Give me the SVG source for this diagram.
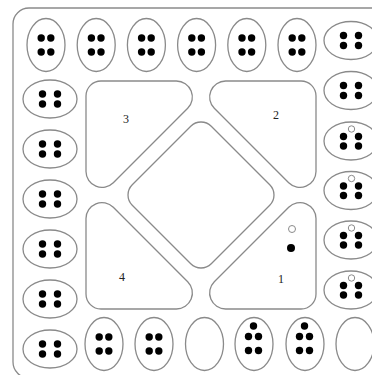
<svg xmlns="http://www.w3.org/2000/svg" width="372" height="375" viewBox="0 0 372 375">
<style>
.ln{fill:#fff;stroke:#8a8a8a;stroke-width:1.3}
.sd{fill:#000}
.op{fill:#fff;stroke:#8a8a8a;stroke-width:1}
.lb{font-family:"Liberation Serif",serif;font-size:12px;fill:#222;text-anchor:middle}
</style>
<defs>
<path id="tri" d="M101,81 L176.4,81 A16,16 0 0 1 187.7,108.3 L113.3,182.7 A16,16 0 0 1 86,171.4 L86,96 A15,15 0 0 1 101,81 Z"/>
<g id="v4"><ellipse class="ln" cx="0" cy="0" rx="19" ry="26.5"/><circle class="sd" cx="-4.8" cy="-7" r="3.7"/><circle class="sd" cx="4.8" cy="-7" r="3.7"/><circle class="sd" cx="-4.8" cy="7" r="3.7"/><circle class="sd" cx="4.8" cy="7" r="3.7"/></g>
<g id="h4"><ellipse class="ln" cx="0" cy="0" rx="27" ry="19"/><circle class="sd" cx="-7.5" cy="-5" r="3.7"/><circle class="sd" cx="7.5" cy="-5" r="3.7"/><circle class="sd" cx="-7.5" cy="5" r="3.7"/><circle class="sd" cx="7.5" cy="5" r="3.7"/></g>
<g id="h5"><ellipse class="ln" cx="0" cy="0" rx="27" ry="19"/><circle class="op" cx="0.5" cy="-12" r="3.2"/><circle class="sd" cx="-7.5" cy="-4.5" r="3.7"/><circle class="sd" cx="7.5" cy="-4.5" r="3.7"/><circle class="sd" cx="-7.5" cy="5" r="3.7"/><circle class="sd" cx="7.5" cy="5" r="3.7"/></g>
<g id="v5"><ellipse class="ln" cx="0" cy="0" rx="19" ry="26.5"/><circle class="sd" cx="-0.5" cy="-18" r="3.7"/><circle class="sd" cx="-5.5" cy="-7.5" r="3.7"/><circle class="sd" cx="4.5" cy="-7.5" r="3.7"/><circle class="sd" cx="-5.5" cy="6.5" r="3.7"/><circle class="sd" cx="4.5" cy="6.5" r="3.7"/></g>
<ellipse id="v0" class="ln" cx="0" cy="0" rx="19" ry="26.5"/>
</defs>
<rect width="372" height="375" fill="#fff"/>
<g id="frame"><rect class="ln" x="13" y="8" width="380" height="370" rx="16"/></g>
<g id="zones">
<g id="zone3"><use href="#tri" class="ln"/><text class="lb" x="126" y="123">3</text></g>
<g id="zone2"><use href="#tri" class="ln" transform="translate(402,0) scale(-1,1)"/><text class="lb" x="276" y="119">2</text></g>
<g id="zone4"><use href="#tri" class="ln" transform="translate(0,390) scale(1,-1)"/><text class="lb" x="122" y="281">4</text></g>
<g id="zone1"><use href="#tri" class="ln" transform="rotate(180 201 195)"/><text class="lb" x="281" y="283">1</text><circle class="op" cx="292" cy="229" r="3.5"/><circle class="sd" cx="291" cy="248" r="4"/></g>
<g id="center"><rect class="ln" x="145.14" y="139.14" width="111.72" height="111.72" rx="14.5" transform="rotate(45 201 195)"/></g>
</g>
<g id="pits-top">
<use href="#v4" x="46" y="45"/><use href="#v4" x="96.2" y="45"/><use href="#v4" x="146.4" y="45"/><use href="#v4" x="196.6" y="45"/><use href="#v4" x="246.8" y="45"/><use href="#v4" x="297" y="45"/>
</g>
<g id="pits-left">
<use href="#h4" x="50" y="99"/><use href="#h4" x="50" y="149"/><use href="#h4" x="50" y="199"/><use href="#h4" x="50" y="249"/><use href="#h4" x="50" y="299"/><use href="#h4" x="50" y="349"/>
</g>
<g id="pits-bottom">
<use href="#v4" x="104" y="344"/><use href="#v4" x="154" y="344"/><use href="#v0" x="204.5" y="344"/><use href="#v5" x="254" y="344"/><use href="#v5" x="305" y="344"/><use href="#v0" x="355" y="344"/>
</g>
<g id="pits-right">
<use href="#h4" x="351" y="40.5"/><use href="#h4" x="351" y="90.5"/><use href="#h5" x="351" y="141"/><use href="#h5" x="351" y="190.5"/><use href="#h5" x="351" y="240"/><use href="#h5" x="351" y="290"/>
</g>
</svg>
